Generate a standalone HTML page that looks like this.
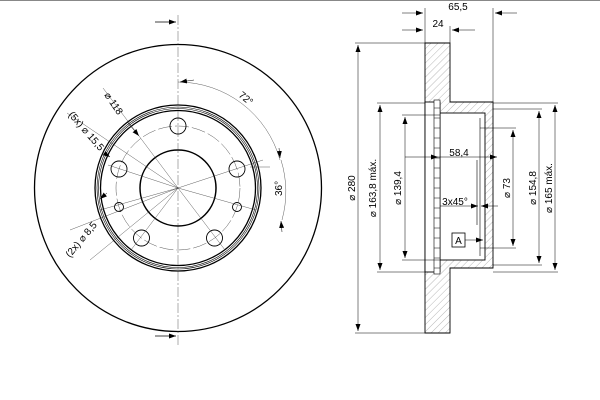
<!DOCTYPE html>
<html><head><meta charset="utf-8"><style>
html,body{margin:0;padding:0;background:#fff;}
svg{display:block;font-family:"Liberation Sans",sans-serif;}
</style></head><body>
<svg width="600" height="400" viewBox="0 0 600 400" xmlns="http://www.w3.org/2000/svg">
<defs>
<pattern id="h" width="5" height="5" patternUnits="userSpaceOnUse" patternTransform="rotate(45)">
<line x1="0" y1="0" x2="0" y2="5" stroke="#888" stroke-width="0.6"/>
</pattern>
<marker id="a" markerWidth="7" markerHeight="5" refX="7" refY="2.5" orient="auto" markerUnits="userSpaceOnUse">
<path d="M0,0 L7,2.5 L0,5z" fill="#000"/></marker>
</defs>
<line x1="0" y1="0.5" x2="600" y2="0.5" stroke="#888"/>
<g fill="none" stroke="#000">
<circle cx="178" cy="188" r="143.5" stroke-width="1.3"/>
<circle cx="178" cy="188" r="83" stroke-width="1.3"/>
<circle cx="178" cy="188" r="81" stroke-width="0.6"/>
<circle cx="178" cy="188" r="79.5" stroke-width="0.6"/>
<circle cx="178" cy="188" r="77.5" stroke-width="1.3"/>
<circle cx="178" cy="188" r="38" stroke-width="1.5"/>
<circle cx="178" cy="188" r="62" stroke-width="0.5" stroke="#555" stroke-dasharray="14,3"/>
<g stroke-width="0.9">
<circle cx="178" cy="126" r="8"/>
<circle cx="237" cy="169" r="8"/>
<circle cx="214.5" cy="238" r="8"/>
<circle cx="141.5" cy="238" r="8"/>
<circle cx="119" cy="169" r="8"/>
<circle cx="119" cy="207" r="4.5"/>
<circle cx="237" cy="207" r="4.5"/>
</g>
<g stroke-width="0.4" stroke="#333">
<line x1="178" y1="15" x2="178" y2="345" stroke-dasharray="10,2,2,2"/>
<line x1="178" y1="188" x2="263" y2="160"/>
<line x1="178" y1="188" x2="256" y2="210"/>
<line x1="178" y1="188" x2="100" y2="210"/>
<line x1="178" y1="188" x2="108" y2="165"/>
<line x1="178" y1="188" x2="225" y2="250"/>
<line x1="178" y1="188" x2="131" y2="250"/>
<line x1="178" y1="188" x2="103" y2="88"/>
<line x1="178" y1="188" x2="67" y2="113"/>
<line x1="178" y1="188" x2="70" y2="230"/>
<line x1="178" y1="188" x2="90" y2="260"/>
<line x1="270" y1="167" x2="250" y2="167"/>
<path d="M178,82 A106,106 0 0 1 280,160"/>
<path d="M281,160 A108,108 0 0 1 282,220"/>
</g>
<line x1="155" y1="22" x2="176" y2="22" stroke-width="0.8" marker-end="url(#a)"/>
<line x1="155" y1="336" x2="176" y2="336" stroke-width="0.8" marker-end="url(#a)"/>
<line x1="194" y1="80" x2="180" y2="82" stroke-width="0.5" marker-end="url(#a)"/>
<line x1="279" y1="148" x2="280" y2="158" stroke-width="0.5" marker-end="url(#a)"/>
<line x1="282" y1="232" x2="281" y2="221" stroke-width="0.5" marker-end="url(#a)"/>
<line x1="128" y1="123" x2="139" y2="136" stroke-width="0.5" marker-end="url(#a)"/>
<line x1="104" y1="153" x2="110" y2="157" stroke-width="0.5" marker-end="url(#a)"/>
<line x1="107" y1="193" x2="100" y2="199" stroke-width="0.5" marker-end="url(#a)"/>
</g>
<g font-size="10" fill="#000">
<text x="238" y="96" transform="rotate(40 238 96)">72°</text>
<text x="282" y="196" transform="rotate(-90 282 196)">36°</text>
<text x="104" y="95" transform="rotate(56 104 95)">⌀ 118</text>
<text x="68" y="115" transform="rotate(49 68 115)">(5x) ⌀ 15,5</text>
<text x="70" y="258" transform="rotate(-50 70 258)">(2x) ⌀ 8,5</text>
</g>
<g stroke="#000" stroke-width="0.9">
<path d="M425,43 H450 V102 H493 V268 H450 V333 H425 Z" fill="url(#h)"/>
<rect x="440" y="113" width="45" height="147" fill="#fff"/>
<rect x="425" y="102" width="15" height="170" fill="#fff"/>
<rect x="434" y="100" width="6" height="174" fill="#fff" stroke-width="0.6"/>
<line x1="480" y1="118" x2="480" y2="256" stroke-width="0.6"/>
<line x1="477" y1="160" x2="477" y2="225" stroke-width="0.6"/>
</g>
<g stroke="#000" stroke-width="0.5">
<path d="M434,108h6M434,118h6M434,128h6M434,138h6M434,148h6M434,158h6M434,168h6M434,178h6M434,188h6M434,198h6M434,208h6M434,218h6M434,228h6M434,238h6M434,248h6M434,258h6M434,268h6"/>
<line x1="425" y1="8" x2="425" y2="43"/><line x1="493" y1="8" x2="493" y2="102"/>
<line x1="450" y1="26" x2="450" y2="43"/>
<line x1="402" y1="13" x2="423" y2="13" marker-end="url(#a)"/><line x1="517" y1="13" x2="495" y2="13" marker-end="url(#a)"/>
<line x1="402" y1="30" x2="423" y2="30" marker-end="url(#a)"/><line x1="475" y1="30" x2="452" y2="30" marker-end="url(#a)"/>
<line x1="355" y1="43" x2="425" y2="43"/><line x1="355" y1="333" x2="425" y2="333"/>
<line x1="358" y1="188" x2="358" y2="45" marker-end="url(#a)"/><line x1="358" y1="188" x2="358" y2="331" marker-end="url(#a)"/>
<line x1="377" y1="103" x2="425" y2="103"/><line x1="377" y1="272" x2="425" y2="272"/>
<line x1="380" y1="188" x2="380" y2="105" marker-end="url(#a)"/><line x1="380" y1="188" x2="380" y2="270" marker-end="url(#a)"/>
<line x1="402" y1="115" x2="440" y2="115"/><line x1="402" y1="260" x2="440" y2="260"/>
<line x1="405" y1="188" x2="405" y2="117" marker-end="url(#a)"/><line x1="405" y1="188" x2="405" y2="258" marker-end="url(#a)"/>
<line x1="405" y1="157" x2="438" y2="157" marker-end="url(#a)"/><line x1="438" y1="157" x2="497" y2="157" marker-end="url(#a)"/>
<line x1="440" y1="206" x2="478" y2="206" marker-end="url(#a)"/><line x1="498" y1="206" x2="481" y2="206" marker-end="url(#a)"/>
<line x1="480" y1="128" x2="516" y2="128"/><line x1="480" y1="248" x2="516" y2="248"/>
<line x1="513" y1="188" x2="513" y2="130" marker-end="url(#a)"/><line x1="513" y1="188" x2="513" y2="246" marker-end="url(#a)"/>
<line x1="493" y1="109" x2="542" y2="109"/><line x1="493" y1="265" x2="542" y2="265"/>
<line x1="539" y1="188" x2="539" y2="111" marker-end="url(#a)"/><line x1="539" y1="188" x2="539" y2="263" marker-end="url(#a)"/>
<line x1="493" y1="103" x2="558" y2="103"/><line x1="493" y1="272" x2="558" y2="272"/>
<line x1="555" y1="188" x2="555" y2="105" marker-end="url(#a)"/><line x1="555" y1="188" x2="555" y2="270" marker-end="url(#a)"/>
<line x1="465" y1="240" x2="483" y2="240" marker-end="url(#a)"/>
<rect x="452" y="233" width="13" height="14" fill="#fff" stroke-width="0.8"/>
</g>
<g font-size="10" fill="#000" text-anchor="middle">
<text x="458" y="10">65,5</text>
<text x="438" y="27">24</text>
<text x="459" y="156">58,4</text>
<text x="455" y="205">3x45°</text>
<text x="458.5" y="244">A</text>
<text x="355" y="188" transform="rotate(-90 355 188)">⌀ 280</text>
<text x="376" y="188" transform="rotate(-90 376 188)">⌀ 163,8 máx.</text>
<text x="401" y="188" transform="rotate(-90 401 188)">⌀ 139,4</text>
<text x="510" y="188" transform="rotate(-90 510 188)">⌀ 73</text>
<text x="536" y="188" transform="rotate(-90 536 188)">⌀ 154,8</text>
<text x="552" y="188" transform="rotate(-90 552 188)">⌀ 165 máx.</text>
</g>
</svg>
</body></html>
